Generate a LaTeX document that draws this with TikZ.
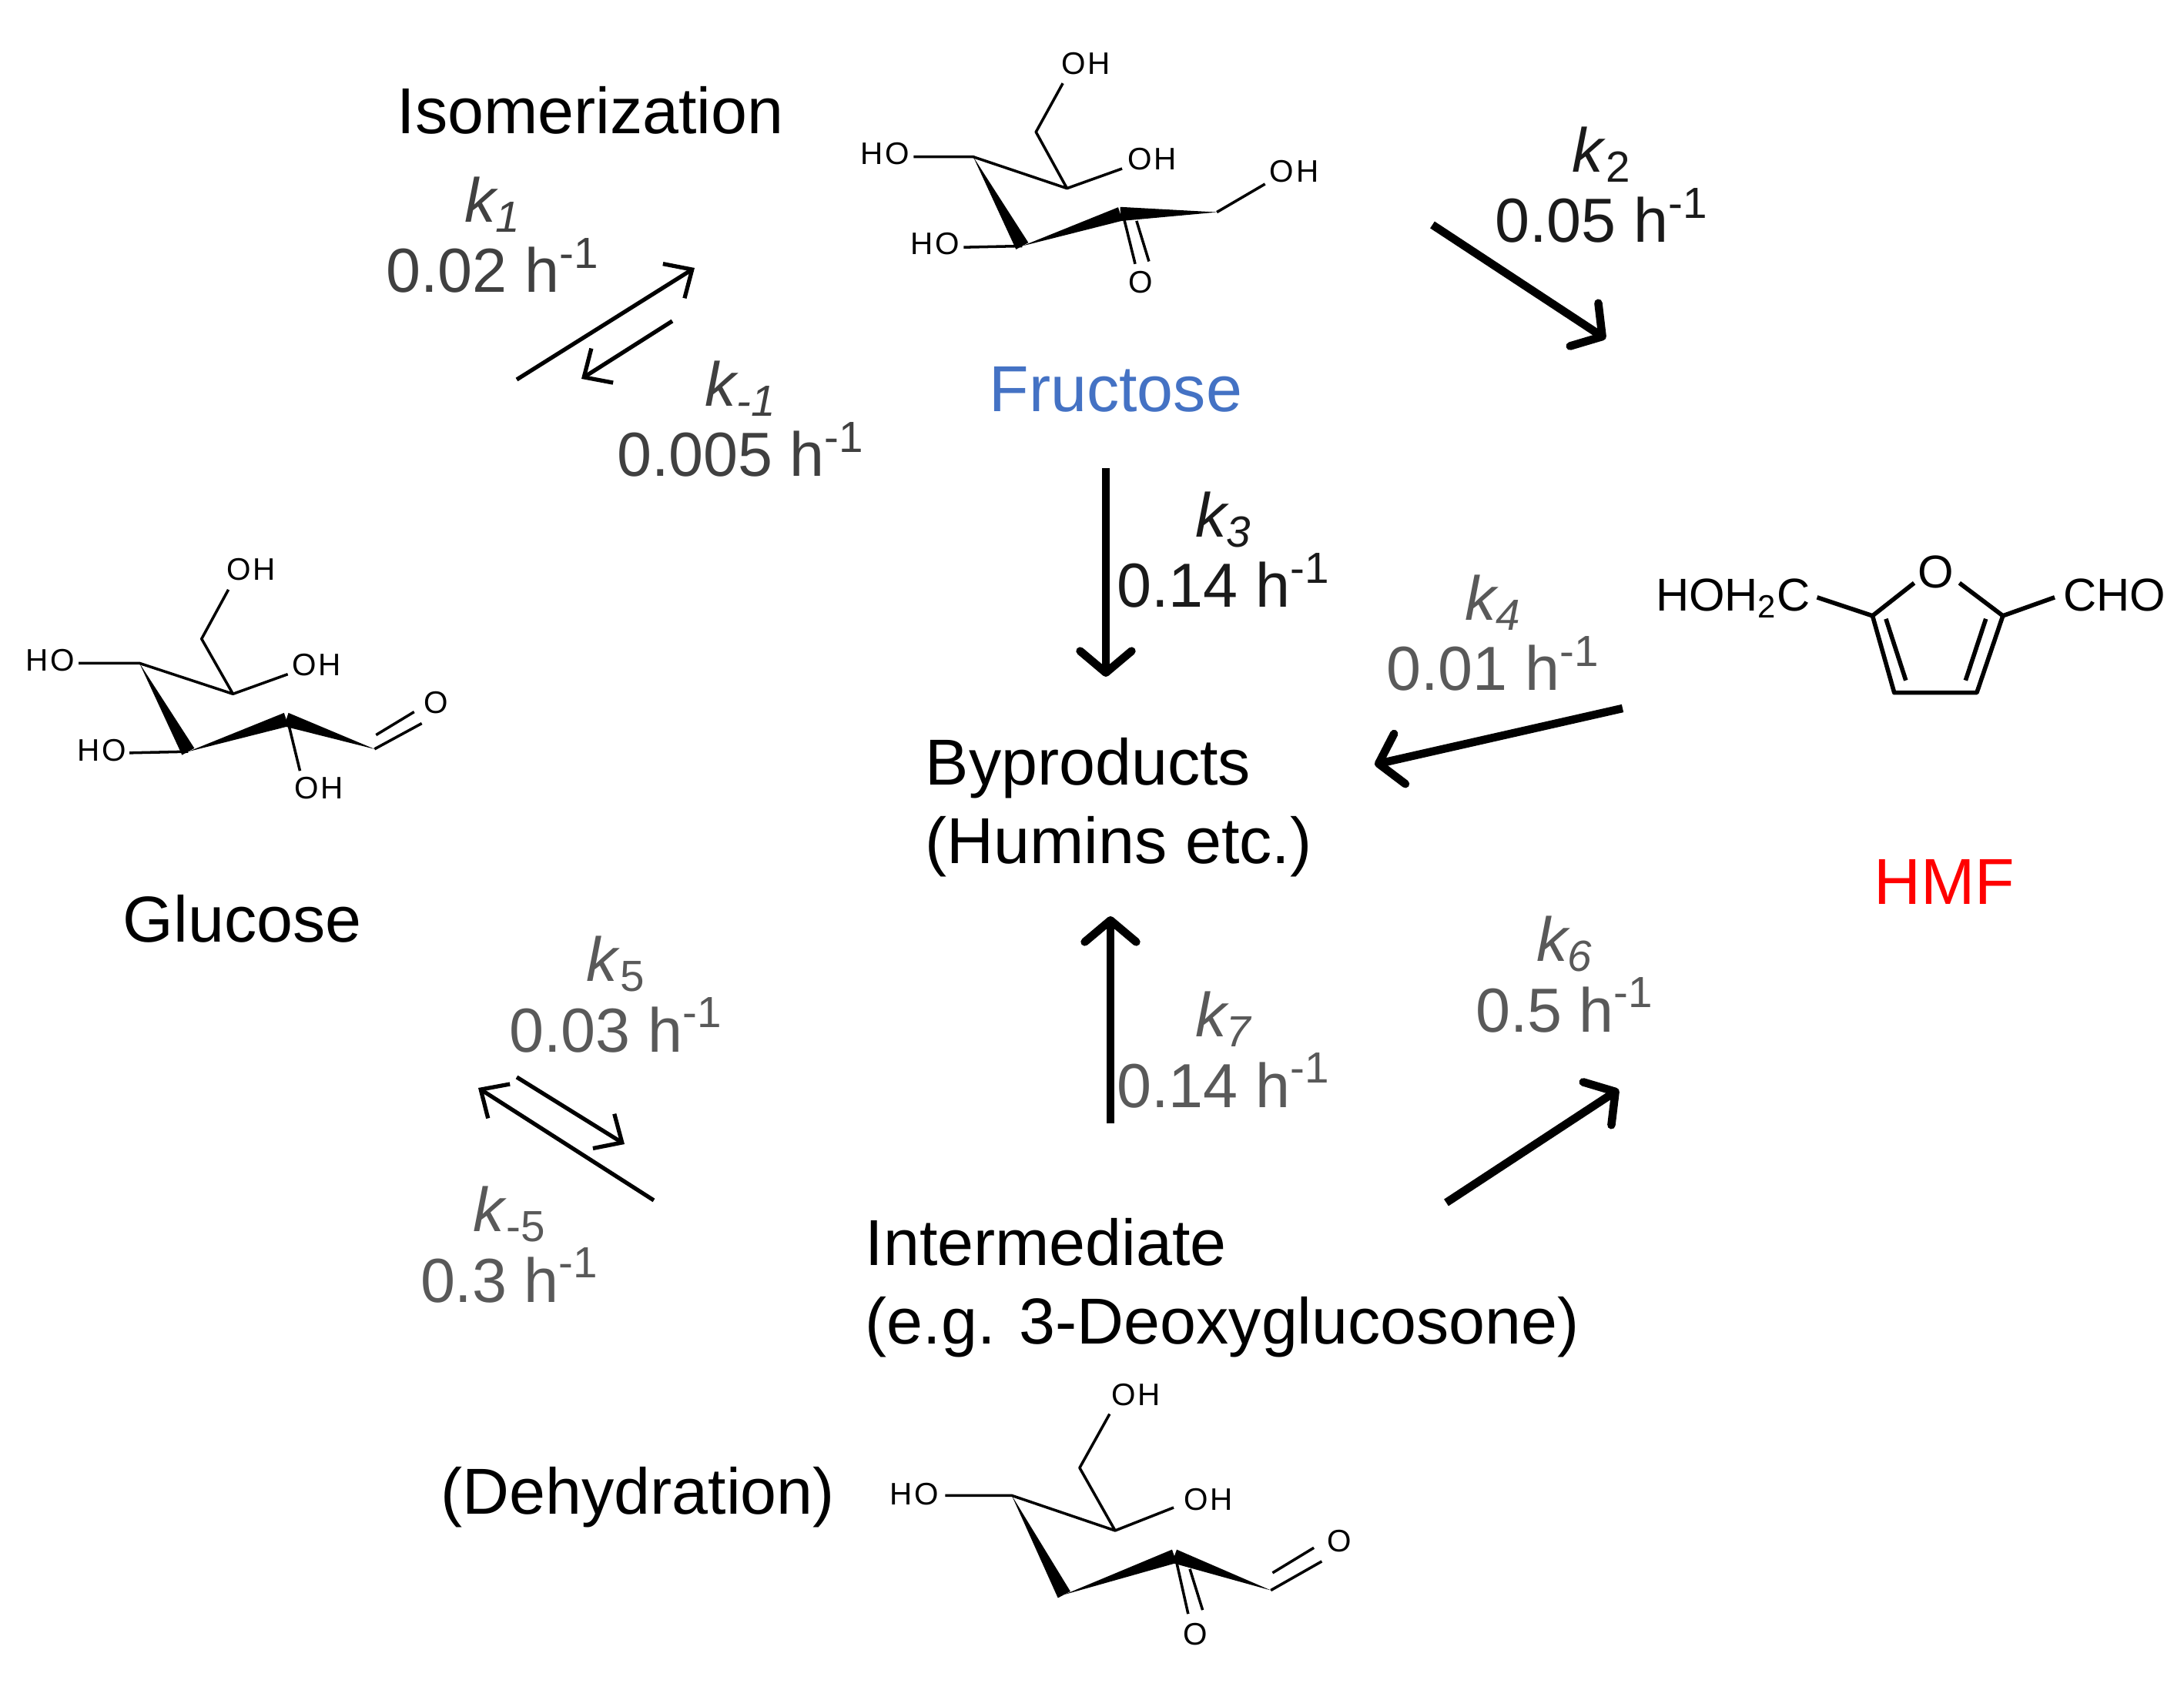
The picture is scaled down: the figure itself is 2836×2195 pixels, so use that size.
\documentclass[tikz,border=0pt]{standalone}
\usepackage{fontspec}
\setmainfont{Liberation Sans}
\newfontfamily\atomfont[LetterSpace=7]{Liberation Sans}
\usetikzlibrary{%
    arrows.meta,%
    positioning,%
    calc%
}

\definecolor{fructoseblue}{HTML}{4472C4}
\definecolor{rateA}{HTML}{404040}
\definecolor{rateB}{HTML}{1A1A1A}
\definecolor{rateC}{HTML}{595959}

\newcommand{\wedgebond}[3]{\fill (#1) -- ($(#2)!#3!90:(#1)$) -- ($(#2)!#3!-90:(#1)$) -- cycle;}

\tikzset{
    title/.style = {font = \fontsize{24}{29}\selectfont, anchor = base west, align = left, inner sep = 0pt},
    rate/.style = {font = \fontsize{23}{26}\selectfont, anchor = base, align = center, inner sep = 0pt},
    atom/.style = {font = \atomfont\fontsize{11.5}{14}\selectfont, inner sep = 0pt},
    hmfatom/.style = {font = \fontsize{17}{20}\selectfont, inner sep = 0pt},
    bond/.style = {line width = 1pt},
    hmfbond/.style = {line width = 1.6pt},
    thinarrow/.style = {line width = 1.5pt, -{Straight Barb[length = 8pt, width = 15pt, line width = 1.5pt]}},
    thickarrow/.style = {line width = 3pt, -{Straight Barb[length = 8pt, width = 19pt, line width = 3pt, round]}}
}

\begin{document}
\begin{tikzpicture}[x = 0.01cm, y = -0.01cm]
    \useasboundingbox (0,0) rectangle (2836,2195);

    % Names of species and steps
    \node[title] (isomer) at (515,174) {Isomerization};
    \node[title, text = fructoseblue] (fructose) at (1284,535) {Fructose};
    \node[title] (glucose) at (159,1223) {Glucose};
    \node[title, text = red] (hmf) at (2433,1174) {HMF};
    \node[title] (byprod) at (1201,1121) {Byproducts\\(Humins etc.)};
    \node[title] (inter) at (1123,1745) {Intermediate\\(e.g. 3-Deoxyglucosone)};
    \node[title] (dehyd) at (572,1966) {(Dehydration)};

    % Rate constants
    \node[rate, text = rateA] (k1) at (640,380) {\textit{k\textsubscript{1}}\\0.02 h\textsuperscript{-1}};
    \node[rate, text = rateA] (km1) at (962,619) {\textit{k\textsubscript{-1}}\\0.005 h\textsuperscript{-1}};
    \node[rate, text = rateB] (k2) at (2080,315) {\textit{k}\textsubscript{2}\\0.05 h\textsuperscript{-1}};
    \node[rate, text = rateB] (k3) at (1589,789) {\textit{k\textsubscript{3}}\\0.14 h\textsuperscript{-1}};
    \node[rate, text = rateC] (k4) at (1939,897) {\textit{k\textsubscript{4}}\\0.01 h\textsuperscript{-1}};
    \node[rate, text = rateC] (k5) at (800,1366) {\textit{k}\textsubscript{5}\\0.03 h\textsuperscript{-1}};
    \node[rate, text = rateC] (km5) at (662,1691) {\textit{k}\textsubscript{-5}\\0.3 h\textsuperscript{-1}};
    \node[rate, text = rateC] (k6) at (2032,1340) {\textit{k\textsubscript{6}}\\0.5 h\textsuperscript{-1}};
    \node[rate, text = rateC] (k7) at (1589,1438) {\textit{k\textsubscript{7}}\\0.14 h\textsuperscript{-1}};

    % Define arrow ends
    \coordinate (a1s) at (671,493);    \coordinate (a1e) at (902,348);
    \coordinate (am1s) at (873,417);   \coordinate (am1e) at (755,492);
    \coordinate (a2s) at (1860,292);   \coordinate (a2e) at (2085,440);
    \coordinate (a3s) at (1436,608);   \coordinate (a3e) at (1436,879);
    \coordinate (a4s) at (2107,920);   \coordinate (a4e) at (1785,993);
    \coordinate (a5s) at (671,1399);   \coordinate (a5e) at (811,1486);
    \coordinate (am5s) at (849,1559);  \coordinate (am5e) at (621,1413);
    \coordinate (a6s) at (1878,1562);  \coordinate (a6e) at (2102,1415);
    \coordinate (a7s) at (1442,1459);  \coordinate (a7e) at (1442,1190);

    % Draw the arrows
    \draw[thinarrow] (a1s) -- (a1e);
    \draw[thinarrow] (am1s) -- (am1e);
    \draw[thickarrow] (a2s) -- (a2e);
    \draw[thickarrow] (a3s) -- (a3e);
    \draw[thickarrow] (a4s) -- (a4e);
    \draw[thinarrow] (a5s) -- (a5e);
    \draw[thinarrow] (am5s) -- (am5e);
    \draw[thickarrow] (a6s) -- (a6e);
    \draw[thickarrow] (a7s) -- (a7e);

    % Fructose
    \begin{scope}[shift = {(1050,30)}, x = 0.004464cm, y = -0.003333cm]
        \node[atom] (fOHa) at (805,158) {OH};
        \node[atom] (fOHb) at (998,532) {OH};
        \node[atom] (fOHc) at (1410,580) {OH};
        \node[atom] (fHOa) at (222,510) {HO};
        \node[atom] (fHOb) at (368,862) {HO};
        \node[atom] (fO) at (965,1010) {O};
        \coordinate (f1) at (478,522);
        \coordinate (f2) at (620,870);
        \coordinate (f3) at (905,745);
        \coordinate (f4) at (1185,738);
        \coordinate (f5) at (750,645);
        \coordinate (f6) at (660,425);
        \draw[bond, line join = round] (738,235) -- (f6) -- (f5) -- (f1) -- (305,522);
        \draw[bond] (f5) -- (910,568);
        \draw[bond] (f2) -- (450,875);
        \draw[bond] (f4) -- (1325,628);
        \draw[bond] (915,760) -- (948,940);
        \draw[bond] (952,772) -- (988,930);
        \wedgebond{f1}{f2}{2.6pt}
        \wedgebond{f2}{f3}{2.6pt}
        \wedgebond{f4}{f3}{2.6pt}
    \end{scope}

    % Glucose
    \begin{scope}[shift = {(0,680)}, x = 0.003953cm, y = -0.003333cm]
        \node[atom] (gOHa) at (825,180) {OH};
        \node[atom] (gOHb) at (1040,553) {OH};
        \node[atom] (gOHc) at (1048,1032) {OH};
        \node[atom] (gHOa) at (165,533) {HO};
        \node[atom] (gHOb) at (335,885) {HO};
        \node[atom] (gO) at (1432,700) {O};
        \coordinate (g1) at (458,545);
        \coordinate (g2) at (618,890);
        \coordinate (g3) at (940,765);
        \coordinate (g4) at (1230,880);
        \coordinate (g5) at (765,665);
        \coordinate (g6) at (662,450);
        \draw[bond, line join = round] (750,258) -- (g6) -- (g5) -- (g1) -- (258,545);
        \draw[bond] (g5) -- (945,588);
        \draw[bond] (g2) -- (425,895);
        \draw[bond] (945,770) -- (985,965);
        \draw[bond] (g4) -- (1385,780);
        \draw[bond] (1235,825) -- (1360,735);
        \wedgebond{g1}{g2}{2.6pt}
        \wedgebond{g2}{g3}{2.6pt}
        \wedgebond{g4}{g3}{2.6pt}
    \end{scope}

    % 3-Deoxyglucosone
    \begin{scope}[shift = {(1100,1760)}, x = 0.004464cm, y = -0.003333cm]
        \node[atom] (dOHa) at (838,155) {OH};
        \node[atom] (dOHb) at (1048,565) {OH};
        \node[atom] (dHO) at (195,542) {HO};
        \node[atom] (dOa) at (1428,725) {O};
        \node[atom] (dOb) at (1010,1088) {O};
        \coordinate (d1) at (478,548);
        \coordinate (d2) at (630,935);
        \coordinate (d3) at (950,785);
        \coordinate (d4) at (1230,918);
        \coordinate (d5) at (778,685);
        \coordinate (d6) at (675,440);
        \draw[bond, line join = round] (762,230) -- (d6) -- (d5) -- (d1) -- (285,548);
        \draw[bond] (d5) -- (948,595);
        \draw[bond] (d4) -- (1378,805);
        \draw[bond] (1235,850) -- (1355,752);
        \draw[bond] (955,800) -- (990,1010);
        \draw[bond] (995,835) -- (1032,995);
        \wedgebond{d1}{d2}{2.6pt}
        \wedgebond{d2}{d3}{2.6pt}
        \wedgebond{d4}{d3}{2.6pt}
    \end{scope}

    % HMF structure
    \begin{scope}[shift = {(2100,680)}, x = 0.004695cm, y = -0.003333cm]
        \node[hmfatom, anchor = base west] (hHOH) at (105,342) {HOH\textsubscript{2}C};
        \node[hmfatom, anchor = base west] (hCHO) at (1230,342) {CHO};
        \node[hmfatom] (hO) at (880,188) {O};
        \coordinate (h1) at (705,360);
        \coordinate (h2) at (765,660);
        \coordinate (h3) at (993,660);
        \coordinate (h4) at (1065,360);
        \draw[hmfbond] (552,288) -- (h1) -- (820,232);
        \draw[hmfbond] (945,232) -- (h4) -- (1208,288);
        \draw[hmfbond, line join = round] (h1) -- (h2) -- (h3) -- (h4);
        \draw[hmfbond] (742,372) -- (797,612);
        \draw[hmfbond] (1018,372) -- (962,612);
    \end{scope}
\end{tikzpicture}
\end{document}
